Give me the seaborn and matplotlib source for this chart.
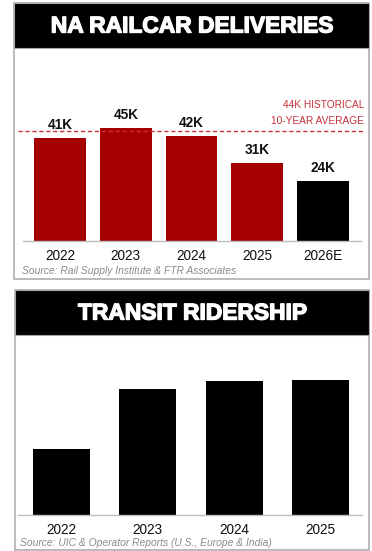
import matplotlib
matplotlib.use("Agg")
import matplotlib.pyplot as plt
import matplotlib.patheffects as pe
from matplotlib.patches import Rectangle
import seaborn as sns

# ---- data ----
railcar_years = ["2022", "2023", "2024", "2025", "2026E"]
railcar_deliveries_k = [41, 45, 42, 31, 24]
railcar_historical_avg_k = 44
railcar_source = "Source: Rail Supply Institute & FTR Associates"

transit_years = ["2022", "2023", "2024", "2025"]
transit_ridership_index = [49, 93, 99, 100]
transit_source = "Source: UIC & Operator Reports (U.S., Europe & India)"

# ---- styling ----
sns.set_style("white")
plt.rcParams["font.family"] = ["Liberation Sans", "DejaVu Sans"]

RED = "#a50000"
BLACK = "#000000"
AVG_RED = "#c8313a"
GRID_GRAY = "#bdbdbd"
BORDER_GRAY = "#a8a8a8"
SOURCE_GRAY = "#8a8a8a"

W, H = 372, 551
fig = plt.figure(figsize=(W / 100, H / 100), dpi=100)
fig.patch.set_facecolor("white")


def fx(x):
    return x / W


def fy(y):
    return 1 - y / H


def add_axes_px(x0, y0, x1, y1):
    return fig.add_axes([fx(x0), fy(y1), (x1 - x0) / W, (y1 - y0) / H])


def panel_frame(x0, y0, x1, y1, band_bottom, title):
    fig.add_artist(Rectangle((fx(x0), fy(y1)), (x1 - x0) / W, (y1 - y0) / H,
                             transform=fig.transFigure, facecolor="white",
                             edgecolor=BORDER_GRAY, linewidth=1.1, zorder=0))
    fig.add_artist(Rectangle((fx(x0), fy(band_bottom)), (x1 - x0) / W,
                             (band_bottom - y0) / H, transform=fig.transFigure,
                             facecolor=BLACK, edgecolor=BORDER_GRAY,
                             linewidth=0.8, zorder=0.5))
    t = fig.text(fx((x0 + x1) / 2), fy((y0 + band_bottom) / 2 + 0.5), title,
                 color="white", fontsize=16.4, fontweight="bold",
                 ha="center", va="center", zorder=2)
    t.set_path_effects([pe.withStroke(linewidth=1.0, foreground="white")])


def style_axes(ax):
    sns.despine(ax=ax, left=True, top=True, right=True, bottom=False)
    ax.spines["bottom"].set_color(GRID_GRAY)
    ax.spines["bottom"].set_linewidth(1.0)
    ax.set_yticks([])
    ax.set_xlabel("")
    ax.set_ylabel("")
    ax.tick_params(axis="x", length=0, pad=5.8, labelsize=9.8, labelcolor="#111111")
    ax.patch.set_alpha(0)


# ---- panel 1: NA railcar deliveries ----
panel_frame(14, 3, 369, 279, 48, "NA RAILCAR DELIVERIES")

ax1 = add_axes_px(23, 55, 361, 241)
rail_colors = [RED, RED, RED, RED, BLACK]
sns.barplot(x=railcar_years, y=railcar_deliveries_k, hue=railcar_years,
            palette=rail_colors, width=0.79, legend=False, ax=ax1,
            saturation=1, edgecolor="none")
ax1.set_xlim(-0.563, 4.578)
ax1.set_ylim(0, 74.25)
style_axes(ax1)

for cont in ax1.containers:
    vals = [b.get_height() for b in cont]
    ax1.bar_label(cont, labels=[f"{v:.0f}K" for v in vals], padding=4.5,
                  fontsize=9.8, fontweight="bold", color="#111111")

ax1.axhline(railcar_historical_avg_k, xmin=-0.015, xmax=1.012, color=AVG_RED,
            linestyle=(0, (3, 2)), linewidth=1.0, clip_on=False, zorder=3)
avg_tr = ax1.get_yaxis_transform()
ax1.text(1.009, railcar_historical_avg_k + 10.1,
         f"{railcar_historical_avg_k}K HISTORICAL", transform=avg_tr,
         ha="right", va="center", fontsize=7.3, color=AVG_RED, clip_on=False)
ax1.text(1.009, railcar_historical_avg_k + 4.0, "10-YEAR AVERAGE",
         transform=avg_tr, ha="right", va="center", fontsize=7.3,
         color=AVG_RED, clip_on=False)

fig.text(fx(21.5), fy(270.7), railcar_source, fontsize=7.35, style="italic",
         color=SOURCE_GRAY, ha="left", va="center")

# ---- panel 2: transit ridership ----
panel_frame(15, 290, 369, 550, 335, "TRANSIT RIDERSHIP")

ax2 = add_axes_px(18, 345, 362, 515)
sns.barplot(x=transit_years, y=transit_ridership_index, color=BLACK,
            width=0.66, ax=ax2, saturation=1, edgecolor="none")
ax2.set_xlim(-0.504, 3.48)
ax2.set_ylim(0, 125.9)
style_axes(ax2)

fig.text(fx(20), fy(542.7), transit_source, fontsize=7.35, style="italic",
         color=SOURCE_GRAY, ha="left", va="center")

fig.savefig("out.png", dpi=100, facecolor="white")
